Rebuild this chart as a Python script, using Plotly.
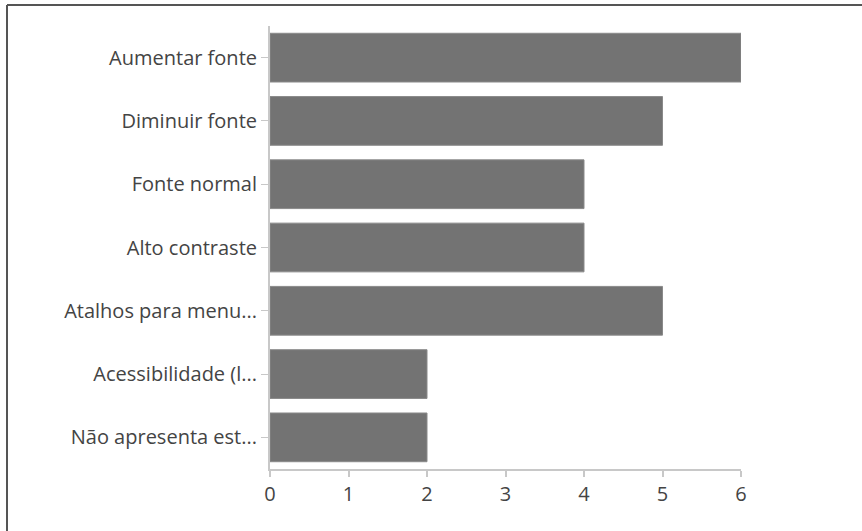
import plotly.graph_objects as go

categories = ["Aumentar fonte", "Diminuir fonte", "Fonte normal", "Alto contraste",
              "Atalhos para menu...", "Acessibilidade (l...", "Não apresenta est..."]
values = [6, 5, 4, 4, 5, 2, 2]
x_ticks = [0, 1, 2, 3, 4, 5, 6]

W, H = 862, 531
L, R, T, B = 270, 121, 26, 62
pw, ph = W - L - R, H - T - B

fig = go.Figure(go.Bar(
    x=values, y=categories, orientation="h",
    marker=dict(color="#737373", line=dict(color="#8a8a8a", width=1)),
))

axis_font = dict(family="Open Sans, DejaVu Sans, sans-serif", size=20, color="#444444")

fig.update_layout(
    width=W, height=H,
    margin=dict(l=L, r=R, t=T, b=B),
    paper_bgcolor="white", plot_bgcolor="white",
    bargap=0.23,
    showlegend=False,
    xaxis=dict(range=[0, 6], tickvals=x_ticks, showgrid=False, zeroline=False,
               showline=True, linecolor="#c8c8c8", linewidth=2,
               ticks="outside", ticklen=6, tickcolor="#c8c8c8", tickwidth=2,
               tickfont=axis_font),
    yaxis=dict(autorange="reversed", showgrid=False, zeroline=False,
               showline=True, linecolor="#c8c8c8", linewidth=2,
               ticks="outside", ticklen=7, tickcolor="#c8c8c8", tickwidth=1,
               tickfont=axis_font),
)

# outer frame (only top and left edges visible in the image)
x0 = (7 - L) / pw
y1 = 1 + (T - 5) / ph
x_end = (W + 20 - L) / pw
y_end = -(B + 20) / ph
frame_line = dict(color="#555555", width=2)
fig.add_shape(type="line", xref="paper", yref="paper",
              x0=x0, y0=y1, x1=x_end, y1=y1, line=frame_line, layer="below")
fig.add_shape(type="line", xref="paper", yref="paper",
              x0=x0, y0=y1, x1=x0, y1=y_end, line=frame_line, layer="below")

fig.write_html("out.html",
               config={"displayModeBar": False},
               post_script="document.body.style.margin='0px';document.body.style.overflow='hidden';")
